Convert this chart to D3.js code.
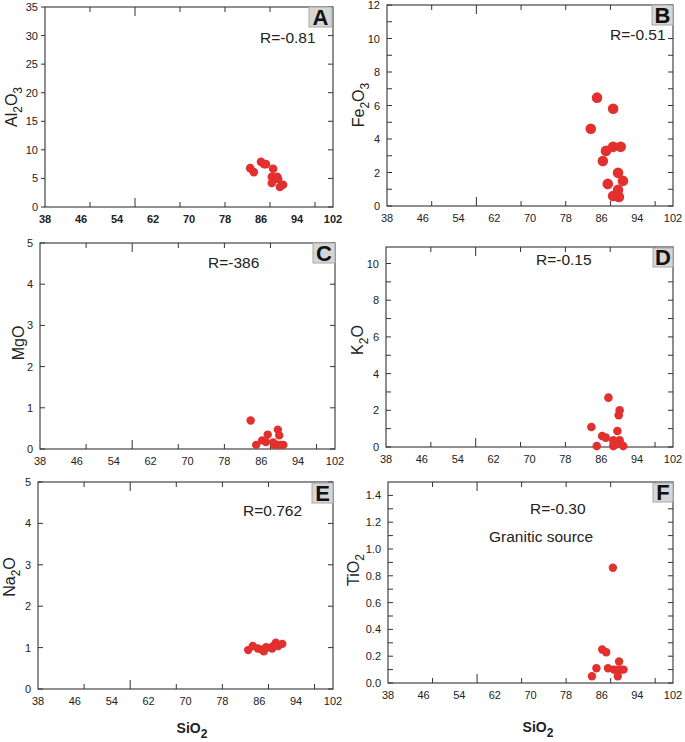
<!DOCTYPE html>
<html><head><meta charset="utf-8">
<script src="https://cdn.jsdelivr.net/npm/d3@7"></script>
<style>body{margin:0;background:#fff}svg{display:block}text{font-family:"Liberation Sans",Arial,sans-serif}</style>
</head><body>
<svg id="chart" width="685" height="742"></svg>
<script>
// ---------- data ----------
const xTickLabels = [38, 46, 54, 62, 70, 78, 86, 94, 102];
const xMinorTicks = [48, 58, 68, 78, 88, 98];

const sio2A = [83.6, 84.4, 86.0, 86.7, 87.1, 88.7, 88.4, 89.6, 89.8, 88.4, 90.2, 90.9];
const al2o3 = [6.8, 6.1, 7.9, 7.5, 7.5, 6.7, 5.3, 5.3, 4.9, 4.2, 3.5, 3.9];

const sio2B = [85.0, 88.6, 83.6, 87.0, 86.3, 88.6, 90.3, 89.7, 90.8, 87.4, 89.7, 88.6, 89.9];
const fe2o3 = [6.47, 5.81, 4.61, 3.29, 2.69, 3.53, 3.53, 1.98, 1.50, 1.32, 0.96, 0.60, 0.54];

const sio2C = [83.7, 84.9, 86.2, 87.0, 87.4, 89.6, 89.9, 88.6, 88.8, 89.7, 90.8, 90.3];
const mgo   = [0.69, 0.10, 0.21, 0.17, 0.35, 0.47, 0.33, 0.16, 0.10, 0.10, 0.10, 0.10];

const sio2D = [87.6, 90.1, 89.9, 83.8, 86.2, 87.0, 89.6, 85.0, 88.7, 90.1, 88.7, 89.4, 90.9];
const k2o   = [2.69, 2.00, 1.73, 1.09, 0.60, 0.51, 0.87, 0.05, 0.36, 0.36, 0.05, 0.15, 0.05];

const sio2E = [83.6, 84.6, 85.7, 86.6, 87.0, 87.5, 88.4, 89.1, 89.6, 90.1, 91.0, 88.8];
const na2o  = [0.94, 1.04, 0.98, 0.95, 0.91, 1.01, 1.00, 1.04, 1.12, 1.04, 1.09, 0.98];

const sio2F = [88.5, 86.1, 87.0, 89.9, 84.8, 87.4, 88.7, 89.6, 90.9, 90.4, 83.8, 89.6];
const tio2  = [0.86, 0.25, 0.23, 0.16, 0.11, 0.11, 0.10, 0.10, 0.10, 0.10, 0.05, 0.05];

const rLabels = ["R=-0.81", "R=-0.51", "R=-386", "R=-0.15", "R=0.762", "R=-0.30"];
const panelLetters = ["A", "B", "C", "D", "E", "F"];

// ---------- layout ----------
const panels = [
  {letter:0, xs:sio2A, ys:al2o3, f:{l:45,r:333,t:7,b:207}, yDom:[0,35], yTicks:d3.range(0,36,5), yMinor:d3.range(0,36,5), fmt:d3.format("d"), rad:4.3, xBold:true, leftOut:true,
   title:[["Al",0],["2",1],["O",0],["3",1]], tx:17, ty:107, rTxt:[260,43], box:[309,7,23,20]},
  {letter:1, xs:sio2B, ys:fe2o3, f:{l:387,r:673,t:5,b:206}, yDom:[0,12], yTicks:d3.range(0,13,2), yMinor:d3.range(0,13,1), fmt:d3.format("d"), rad:5.3,
   title:[["Fe",0],["2",1],["O",0],["3",1]], tx:364, ty:105, rTxt:[610,40], box:[652,5,21,20]},
  {letter:2, xs:sio2C, ys:mgo, f:{l:40,r:335,t:243,b:449}, yDom:[0,5], yTicks:d3.range(0,6,1), yMinor:d3.range(0,6,1), fmt:d3.format("d"), rad:4.2,
   title:[["MgO",0]], tx:24, ty:343, rTxt:[208,268], box:[313,243,22,20]},
  {letter:3, xs:sio2D, ys:k2o, f:{l:386,r:673,t:247,b:447}, yDom:[0,10.9], yTicks:d3.range(0,11,2), yMinor:d3.range(0,11,1), fmt:d3.format("d"), rad:4.3,
   title:[["K",0],["2",1],["O",0]], tx:363, ty:340, rTxt:[536,265], box:[653,248,20,19]},
  {letter:4, xs:sio2E, ys:na2o, f:{l:38,r:333,t:482,b:689}, yDom:[0,5], yTicks:d3.range(0,6,1), yMinor:d3.range(0,6,1), fmt:d3.format("d"), rad:4.2,
   title:[["Na",0],["2",1],["O",0]], tx:15, ty:577, rTxt:[243,516], box:[312,483,21,20], siO2:[192,733]},
  {letter:5, xs:sio2F, ys:tio2, f:{l:388,r:673,t:482,b:683}, yDom:[0,1.5], yTicks:d3.range(0,7.5,1).map(v=>v*0.2), yMinor:d3.range(0,15,1).map(v=>v*0.1), fmt:d3.format(".1f"), rad:4.2,
   title:[["TiO",0],["2",1]], tx:359, ty:570, rTxt:[530,514], box:[653,483,20,19], siO2:[538,732], extra:["Granitic source",489,542]}
];

const svg = d3.select("#chart");
const axisCol = "#333";
const dotCol = "#e2302f";

panels.forEach(p => {
  const g = svg.append("g");
  const x = d3.scaleLinear().domain([38, 102]).range([p.f.l, p.f.r]);
  const y = d3.scaleLinear().domain(p.yDom).range([p.f.b, p.f.t]);

  // frame
  g.append("rect").attr("x", p.f.l).attr("y", p.f.t).attr("width", p.f.r - p.f.l).attr("height", p.f.b - p.f.t)
    .attr("fill", "none").attr("stroke", axisCol).attr("stroke-width", 1.1);

  // x ticks (top & bottom, inward)
  xMinorTicks.forEach(v => {
    const len = v === 58 ? 9 : 5;
    g.append("line").attr("x1", x(v)).attr("x2", x(v)).attr("y1", p.f.b).attr("y2", p.f.b - len).attr("stroke", axisCol);
    g.append("line").attr("x1", x(v)).attr("x2", x(v)).attr("y1", p.f.t).attr("y2", p.f.t + len).attr("stroke", axisCol);
  });
  // x tick labels
  g.selectAll(null).data(xTickLabels).enter().append("text")
    .attr("x", d => x(d)).attr("y", p.f.b + 16).attr("text-anchor", "middle")
    .attr("font-size", 11).attr("font-weight", p.xBold ? "bold" : "normal").attr("fill", "#222").text(d => d);

  // y ticks
  p.yMinor.forEach(v => {
    const yy = y(v);
    if (p.leftOut) g.append("line").attr("x1", p.f.l - 4).attr("x2", p.f.l).attr("y1", yy).attr("y2", yy).attr("stroke", axisCol);
    else g.append("line").attr("x1", p.f.l).attr("x2", p.f.l + 5).attr("y1", yy).attr("y2", yy).attr("stroke", axisCol);
    g.append("line").attr("x1", p.f.r).attr("x2", p.f.r - 5).attr("y1", yy).attr("y2", yy).attr("stroke", axisCol);
  });
  g.selectAll(null).data(p.yTicks).enter().append("text")
    .attr("x", p.f.l - 7).attr("y", d => y(d) + 4).attr("text-anchor", "end")
    .attr("font-size", 11).attr("fill", "#222").text(d => p.fmt(d));

  // y title
  const t = g.append("text").attr("transform", `translate(${p.tx},${p.ty}) rotate(-90)`)
    .attr("text-anchor", "middle").attr("font-size", 16).attr("fill", "#222");
  let prevSub = false;
  p.title.forEach(([s, sub]) => {
    const ts = t.append("tspan").text(s);
    if (sub) { ts.attr("font-size", 12).attr("dy", prevSub ? 0 : 5); }
    else if (prevSub) { ts.attr("dy", -5); }
    prevSub = !!sub;
  });

  // points
  g.selectAll(null).data(p.xs.map((v, i) => [v, p.ys[i]])).enter().append("circle")
    .attr("cx", d => x(d[0])).attr("cy", d => y(d[1])).attr("r", p.rad).attr("fill", dotCol);

  // R label
  g.append("text").attr("x", p.rTxt[0]).attr("y", p.rTxt[1]).attr("font-size", 15.5).attr("fill", "#222").text(rLabels[p.letter]);
  if (p.extra) g.append("text").attr("x", p.extra[1]).attr("y", p.extra[2]).attr("font-size", 15.5).attr("fill", "#222").text(p.extra[0]);

  // letter box
  g.append("rect").attr("x", p.box[0]).attr("y", p.box[1]).attr("width", p.box[2]).attr("height", p.box[3])
    .attr("fill", "#d6d6d6").attr("stroke", "#a8a8a8");
  g.append("text").attr("x", p.box[0] + p.box[2] / 2).attr("y", p.box[1] + p.box[3] - 2).attr("text-anchor", "middle")
    .attr("font-size", 22).attr("font-weight", "bold").attr("fill", "#111").text(panelLetters[p.letter]);

  // SiO2 axis title
  if (p.siO2) {
    const s = g.append("text").attr("x", p.siO2[0]).attr("y", p.siO2[1]).attr("text-anchor", "middle")
      .attr("font-size", 14).attr("font-weight", "bold").attr("fill", "#222");
    s.append("tspan").text("SiO");
    s.append("tspan").attr("font-size", 12).attr("dy", 5).text("2");
  }
});
</script>
</body></html>
